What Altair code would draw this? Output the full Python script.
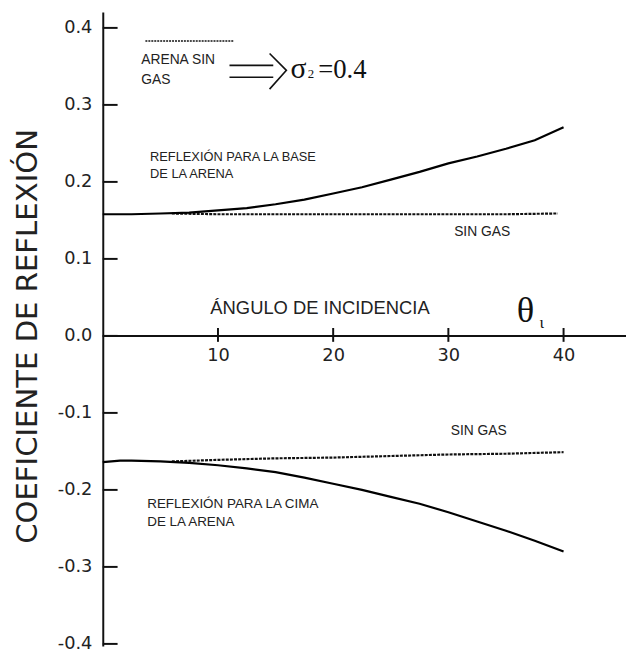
import altair as alt
import pandas as pd

# ---- data ----
theta_base = [0, 2.5, 5, 7.5, 10, 12.5, 15, 17.5, 20, 22.5, 25, 27.5, 30, 32.5, 35, 37.5, 40]
base_gas = [0.158, 0.158, 0.159, 0.160, 0.163, 0.166, 0.171, 0.177, 0.185, 0.193, 0.203, 0.213, 0.224, 0.233, 0.243, 0.254, 0.271]

theta_base_sg = [6, 10, 15, 20, 25, 30, 35, 39.5]
base_sin_gas = [0.159, 0.158, 0.158, 0.158, 0.158, 0.158, 0.158, 0.159]

theta_cima = [0, 1.5, 2.5, 5, 7.5, 10, 12.5, 15, 17.5, 20, 22.5, 25, 27.5, 30, 32.5, 35, 37.5, 40]
cima_gas = [-0.164, -0.162, -0.162, -0.163, -0.165, -0.168, -0.172, -0.177, -0.184, -0.192, -0.200, -0.209, -0.218, -0.229, -0.241, -0.253, -0.266, -0.280]

theta_cima_sg = [6, 10, 15, 20, 25, 30, 35, 40]
cima_sin_gas = [-0.163, -0.161, -0.159, -0.158, -0.156, -0.154, -0.153, -0.151]

y_ticks = [-0.4, -0.3, -0.2, -0.1, 0.0, 0.1, 0.2, 0.3, 0.4]
x_ticks = [10, 20, 30, 40]

# legend sample (dashed) and arrow annotation, in data units
legend_dash_x = [3.7, 11.4]
legend_dash_y = [0.383, 0.383]
arrow_x1 = [11.0, 11.0]
arrow_x2 = [14.8, 14.8]
arrow_y = [0.3513, 0.3359]
chevron_x = [14.48, 15.94, 14.48]
chevron_y = [0.3667, 0.3449, 0.3205]

labels_text = ["ARENA SIN", "GAS", "REFLEXIÓN PARA LA BASE", "DE LA ARENA", "SIN GAS",
               "SIN GAS", "REFLEXIÓN PARA LA CIMA", "DE LA ARENA"]
labels_x = [3.34, 3.34, 4.1, 4.1, 30.5, 30.2, 3.86, 3.86]
labels_y = [0.358, 0.332, 0.232, 0.210, 0.135, -0.123, -0.218, -0.242]
labels_size = [14, 14, 13, 13, 14, 14, 13.6, 13.6]

sigma_txt = ["σ", "2", "=0.4"]
sigma_x = [16.3, 17.8, 18.7]
sigma_size = [30, 13, 27]

X_DOMAIN = [0, 45.42]
Y_DOMAIN = [-0.4026, 0.4205]
W, H = 530, 642

xs = alt.Scale(domain=X_DOMAIN, nice=False, zero=False)
ys = alt.Scale(domain=Y_DOMAIN, nice=False, zero=False)

X_AX = alt.Axis(
    orient="bottom", offset=-314, domain=False, ticks=False, grid=False,
    values=x_ticks, labelPadding=11, labelFont="DejaVu Sans", labelFontSize=18,
    labelColor="#222", title=None)
Y_AX = alt.Axis(
    orient="left", values=y_ticks, tickSize=0, grid=False, domainColor="#111",
    domainWidth=2, labelPadding=11, labelFont="DejaVu Sans", labelFontSize=18,
    labelColor="#222",
    labelExpr="(datum.value < 0 ? '-' : '') + format(abs(datum.value), '.1f')",
    title="COEFICIENTE DE REFLEXIÓN", titleFont="DejaVu Sans", titleFontSize=29.5,
    titleFontWeight="normal", titleColor="#222", titleAngle=270,
    titleX=-76, titleY=328, titleAlign="center", titleBaseline="middle")


def X(f):
    return alt.X(f, type="quantitative", scale=xs, axis=X_AX)


def Y(f):
    return alt.Y(f, type="quantitative", scale=ys, axis=Y_AX)


curves = pd.DataFrame(
    [{"t": t, "v": v, "s": "base"} for t, v in zip(theta_base, base_gas)]
    + [{"t": t, "v": v, "s": "cima"} for t, v in zip(theta_cima, cima_gas)]
)
curves_sg = pd.DataFrame(
    [{"t": t, "v": v, "s": "base"} for t, v in zip(theta_base_sg, base_sin_gas)]
    + [{"t": t, "v": v, "s": "cima"} for t, v in zip(theta_cima_sg, cima_sin_gas)]
)

# y ticks pointing into the plot
yticks = alt.Chart(pd.DataFrame({"v": y_ticks})).mark_rule(color="#111", strokeWidth=2).encode(
    y=Y("v"), x=alt.value(0), x2=alt.value(15))

# x axis line at y=0 and ticks crossing it
xline = alt.Chart(pd.DataFrame({"t": [X_DOMAIN[0]], "b": [X_DOMAIN[1]], "v": [0.0]})).mark_rule(
    color="#111", strokeWidth=2).encode(x=X("t"), x2="b:Q", y=Y("v"))
xticks = alt.Chart(pd.DataFrame({"t": x_ticks, "v": [0.0] * len(x_ticks)})).mark_rule(
    color="#111", strokeWidth=2, yOffset=-8, y2Offset=6).encode(
    x=X("t"), y=Y("v"), y2="v:Q")

solid = alt.Chart(curves).mark_line(color="black", strokeWidth=2.2).encode(
    x=X("t"), y=Y("v"), detail="s:N")
dashed = alt.Chart(curves_sg).mark_line(color="#111", strokeWidth=2.2, strokeDash=[3, 1.2]).encode(
    x=X("t"), y=Y("v"), detail="s:N")

legend_line = alt.Chart(pd.DataFrame({"t": legend_dash_x, "v": legend_dash_y})).mark_line(
    color="#111", strokeWidth=1.5, strokeDash=[2, 1]).encode(x=X("t"), y=Y("v"))

arrow_lines = alt.Chart(pd.DataFrame({"t": arrow_x1, "b": arrow_x2, "v": arrow_y})).mark_rule(
    color="#111", strokeWidth=1.6).encode(x=X("t"), x2="b:Q", y=Y("v"))
chevron = alt.Chart(pd.DataFrame({"t": chevron_x, "v": chevron_y, "o": [0, 1, 2]})).mark_line(
    color="#111", strokeWidth=1.6).encode(x=X("t"), y=Y("v"), order="o:Q")

labels = alt.Chart(pd.DataFrame({"t": labels_x, "v": labels_y, "txt": labels_text, "fs": labels_size})).mark_text(
    align="left", baseline="middle", font="Liberation Sans", color="#222").encode(
    x=X("t"), y=Y("v"), text="txt:N", size=alt.Size("fs:Q", scale=None, legend=None))

axis_label = alt.Chart(pd.DataFrame({"t": [9.34], "v": [0.036], "txt": ["ÁNGULO DE INCIDENCIA"]})).mark_text(
    align="left", baseline="middle", font="Liberation Sans", fontSize=18.6, color="#222").encode(
    x=X("t"), y=Y("v"), text="txt:N")

theta_sym = alt.Chart(pd.DataFrame({"t": [36.7], "v": [0.018], "txt": ["θ"]})).mark_text(
    align="center", baseline="alphabetic", font="Liberation Serif", fontSize=37, color="#111").encode(
    x=X("t"), y=Y("v"), text="txt:N")
theta_sub = alt.Chart(pd.DataFrame({"t": [38.1], "v": [0.0103], "txt": ["ι"]})).mark_text(
    align="center", baseline="alphabetic", font="Liberation Serif", fontSize=17, color="#111").encode(
    x=X("t"), y=Y("v"), text="txt:N")

sigma = alt.Chart(pd.DataFrame({"t": sigma_x, "v": [0.3346] * 3, "txt": sigma_txt, "fs": sigma_size})).mark_text(
    align="left", baseline="alphabetic", font="Liberation Serif", color="#111").encode(
    x=X("t"), y=Y("v"), text="txt:N",
    size=alt.Size("fs:Q", scale=None, legend=None))

chart = alt.layer(
    yticks, xline, xticks, dashed, solid, legend_line, arrow_lines, chevron,
    labels, axis_label, theta_sym, theta_sub, sigma
).properties(
    width=W, height=H,
    autosize=alt.AutoSizeParams(type="none"),
    padding={"left": 96, "top": 0, "right": 0, "bottom": 2},
).configure(background="white", view=alt.ViewConfig(stroke="transparent"))

chart.save("out.html", embed_options={"renderer": "svg", "actions": False})
